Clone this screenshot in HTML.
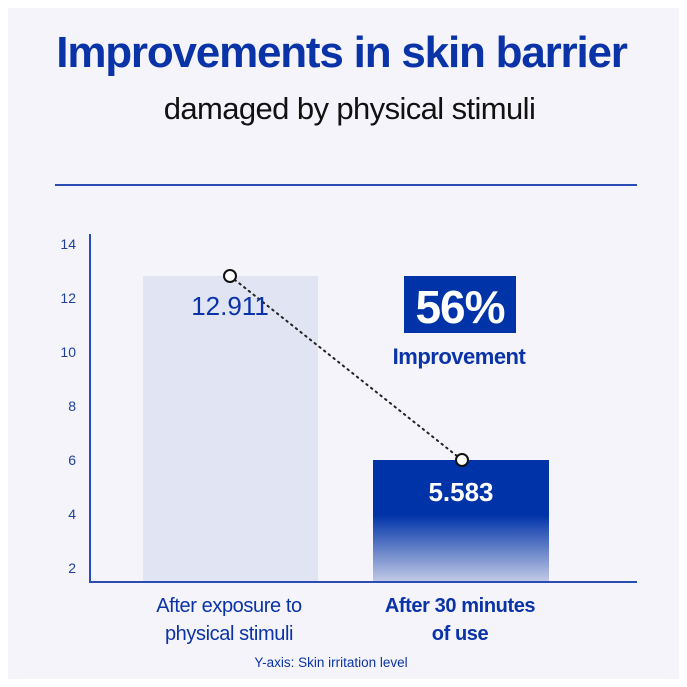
<!DOCTYPE html>
<html><head><meta charset="utf-8"><style>
body{margin:0;background:#fff;}
.c{position:relative;width:687px;height:687px;font-family:"Liberation Sans",sans-serif;}
.bg{position:absolute;left:8px;top:8px;width:671px;height:671px;background:#f4f4fa;}
.t{position:absolute;left:0;width:687px;text-align:center;}
</style></head><body><div class="c">
<div class="bg"></div>
<div class="t" style="top:28px;left:-2px;font-size:44px;font-weight:bold;color:#0a33a8;letter-spacing:-1.2px">Improvements in skin barrier</div>
<div class="t" style="top:91px;left:6px;font-size:31px;color:#111;letter-spacing:-0.6px">damaged by physical stimuli</div>
<div style="position:absolute;left:55px;top:184px;width:582px;height:2px;background:#2a4db5"></div>
<svg style="position:absolute;left:0;top:0" width="687" height="687">
<defs><linearGradient id="g" x1="0" y1="0" x2="0" y2="1"><stop offset="0.45" stop-color="#0033a8"/><stop offset="1" stop-color="#c4cbe6"/></linearGradient></defs>
<rect x="143" y="276" width="175" height="306" fill="#e1e4f3"/>
<rect x="373" y="460" width="176" height="122" fill="url(#g)"/>
<line x1="90" y1="234" x2="90" y2="582" stroke="#2a4db5" stroke-width="2"/>
<line x1="89" y1="582" x2="637" y2="582" stroke="#2a4db5" stroke-width="2"/>
<g font-family="Liberation Sans,sans-serif" font-size="14" fill="#1e3f9a" text-anchor="end">
<text x="76" y="249">14</text><text x="76" y="303">12</text><text x="76" y="357">10</text><text x="76" y="411">8</text><text x="76" y="465">6</text><text x="76" y="519">4</text><text x="76" y="573">2</text></g>
<line x1="230" y1="276" x2="462" y2="460" stroke="#222" stroke-width="2" stroke-dasharray="1.5 4.5" stroke-linecap="round"/>
<circle cx="230" cy="276" r="6" fill="#fff" stroke="#111" stroke-width="2"/>
<circle cx="462" cy="460" r="6" fill="#fff" stroke="#111" stroke-width="2"/>
<text x="230" y="315" font-family="Liberation Sans,sans-serif" font-size="26" fill="#0a33a8" text-anchor="middle">12.911</text>
<text x="461" y="501" font-family="Liberation Sans,sans-serif" font-size="26" font-weight="bold" fill="#fff" text-anchor="middle">5.583</text>
<rect x="404" y="276" width="112" height="57" fill="#0033a8"/>
<text x="460" y="323" font-family="Liberation Sans,sans-serif" font-size="46" font-weight="bold" fill="#fff" text-anchor="middle" letter-spacing="-1">56%</text>
<text x="459" y="364" font-family="Liberation Sans,sans-serif" font-size="22" font-weight="bold" fill="#0a33a8" text-anchor="middle" letter-spacing="-0.5">Improvement</text>
<g font-family="Liberation Sans,sans-serif" font-size="20" fill="#0a33a8" text-anchor="middle" letter-spacing="-0.4">
<text x="229" y="612">After exposure to</text><text x="229" y="640">physical stimuli</text>
<text x="460" y="612" font-weight="bold">After 30 minutes</text><text x="460" y="640" font-weight="bold">of use</text></g>
<text x="331" y="667" font-family="Liberation Sans,sans-serif" font-size="13.5" fill="#0a33a8" text-anchor="middle">Y-axis: Skin irritation level</text>
</svg>
</div></body></html>
